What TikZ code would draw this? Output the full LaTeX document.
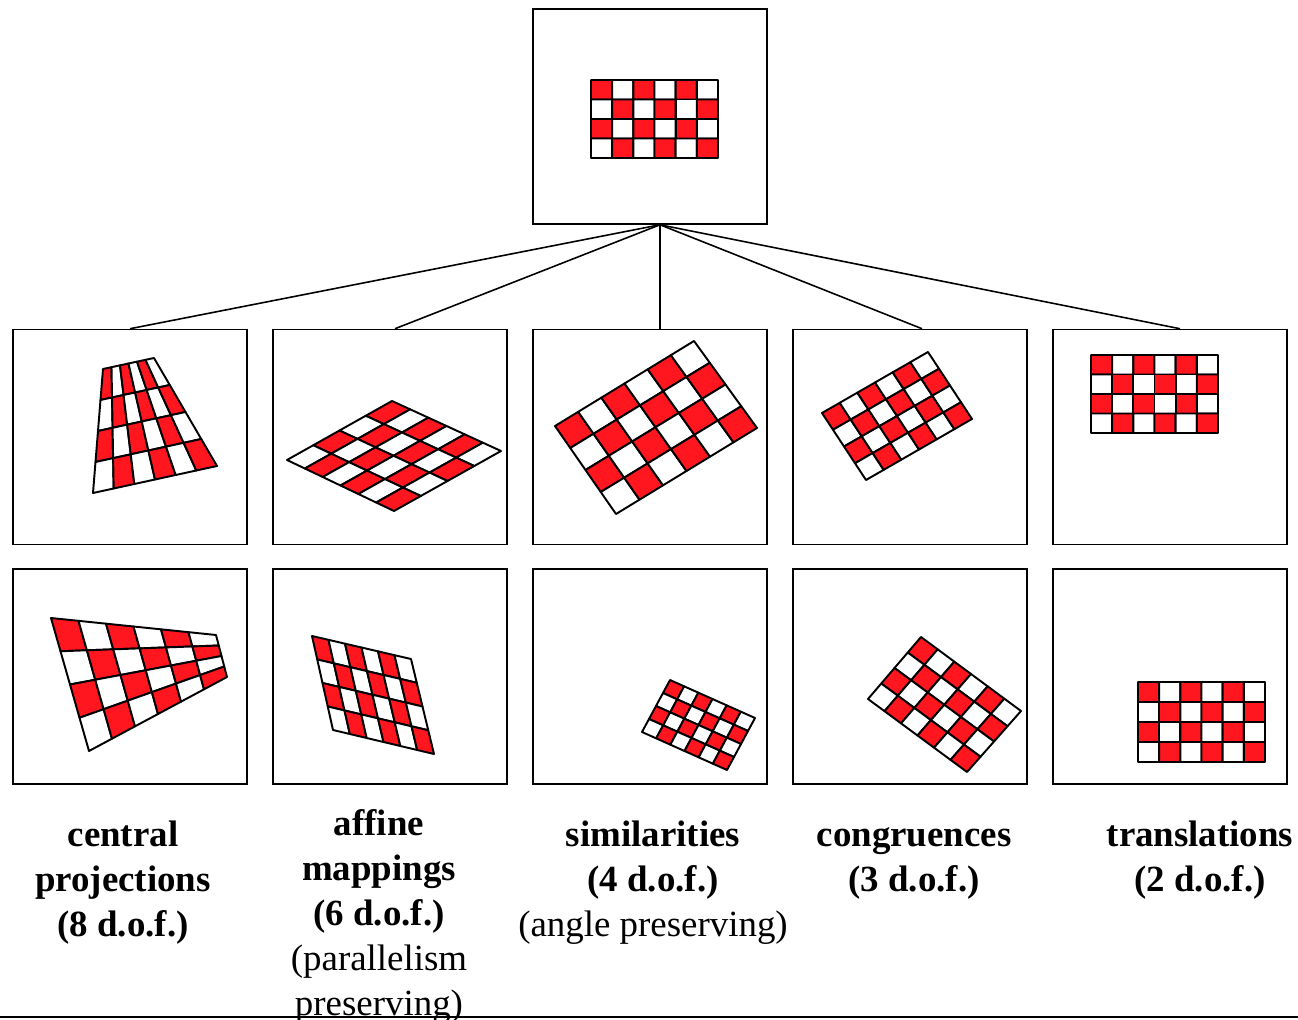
\documentclass[tikz,border=0pt]{standalone}
\usepackage{fontspec}
\setmainfont{Liberation Serif}
\usetikzlibrary{calc}

\definecolor{boardred}{RGB}{255,22,30}

\tikzset{
  panel/.style={draw, line width=0.9pt, minimum width=4.68cm, minimum height=4.3cm, inner sep=0pt},
  link/.style={line width=0.9pt},
  caption/.style={align=center, anchor=base, inner sep=0pt, font=\fontsize{21}{25.5}\selectfont\bfseries},
}

% 6x4 checkerboard spread over four corners, red cell at #1
\newcommand{\checkboard}[4]{%
  \coordinate (bA) at #1; \coordinate (bB) at #2;
  \coordinate (bC) at #3; \coordinate (bD) at #4;
  \foreach \i in {0,...,5}{
    \foreach \j in {0,...,3}{
      \pgfmathsetmacro\ua{\i/6}
      \pgfmathsetmacro\ub{(\i+1)/6}
      \pgfmathsetmacro\va{\j/4}
      \pgfmathsetmacro\vb{(\j+1)/4}
      \pgfmathtruncatemacro\cellodd{mod(\i+\j,2)}
      \ifnum\cellodd=0 \def\cellcol{boardred}\else\def\cellcol{white}\fi
      \coordinate (u0) at ($(bA)!\ua!(bB)$);
      \coordinate (u1) at ($(bA)!\ub!(bB)$);
      \coordinate (w0) at ($(bD)!\ua!(bC)$);
      \coordinate (w1) at ($(bD)!\ub!(bC)$);
      \filldraw[fill=\cellcol, line width=1.1pt, line join=round]
        ($(u0)!\va!(w0)$) -- ($(u1)!\va!(w1)$) -- ($(u1)!\vb!(w1)$) -- ($(u0)!\vb!(w0)$) -- cycle;
    }
  }
}

\begin{document}
\begin{tikzpicture}[x=0.02cm, y=-0.02cm]
  \useasboundingbox (0,0) rectangle (1298,1020);

  % Original board
  \node[panel] (orig) at (650,116.5) {};

  % First row
  \node[panel] (a1) at (130,437) {};
  \node[panel] (a2) at (390,437) {};
  \node[panel] (a3) at (650,437) {};
  \node[panel] (a4) at (910,437) {};
  \node[panel] (a5) at (1170,437) {};

  % Second row
  \node[panel] (b1) at (130,676.5) {};
  \node[panel] (b2) at (390,676.5) {};
  \node[panel] (b3) at (650,676.5) {};
  \node[panel] (b4) at (910,676.5) {};
  \node[panel] (b5) at (1170,676.5) {};

  % Links
  \coordinate (hub) at ([xshift=0.2cm]orig.south);
  \draw[link] (hub) -- (a1.north);
  \draw[link] (hub) -- ([xshift=0.1cm]a2.north);
  \draw[link] (hub) -- ([xshift=0.2cm]a3.north);
  \draw[link] (hub) -- ([xshift=0.24cm]a4.north);
  \draw[link] (hub) -- ([xshift=0.2cm]a5.north);

  % Boards
  \checkboard{(591,80)}{(718,80)}{(718,158)}{(591,158)}
  \checkboard{(103,369)}{(154,358)}{(217,466)}{(93,493)}
  \checkboard{(392,401)}{(501,451)}{(394,511)}{(287,460)}
  \checkboard{(555,426)}{(694,341)}{(757,428)}{(616,514)}
  \checkboard{(822,413)}{(928,352)}{(972,419)}{(866,480)}
  \checkboard{(1091,355)}{(1218,355)}{(1218,433)}{(1091,433)}
  \checkboard{(51,618)}{(216,635)}{(227,677)}{(89,751)}
  \checkboard{(312,636)}{(411,659)}{(434,754)}{(333,730)}
  \checkboard{(670,680)}{(755,718)}{(727,770)}{(642,732)}
  \checkboard{(921,637)}{(1021,711)}{(967,772)}{(868,699)}
  \checkboard{(1138,682)}{(1265,682)}{(1265,762)}{(1138,762)}

  % Captions (base = last line)
  \node[caption] (lab1) at (123,936) {central\\projections\\(8 d.o.f.)};
  \node[caption] (lab2) at (379,1015) {affine\\mappings\\(6 d.o.f.)\\\mdseries(parallelism\\\mdseries preserving)};
  \node[caption] (lab3) at (653,936) {similarities\\(4 d.o.f.)\\\mdseries(angle preserving)};
  \node[caption] (lab4) at (914,891) {congruences\\(3 d.o.f.)};
  \node[caption] (lab5) at (1200,891) {translations\\(2 d.o.f.)};

  \draw[line width=1.2pt] (0,1017) -- (1298,1017);
\end{tikzpicture}
\end{document}
